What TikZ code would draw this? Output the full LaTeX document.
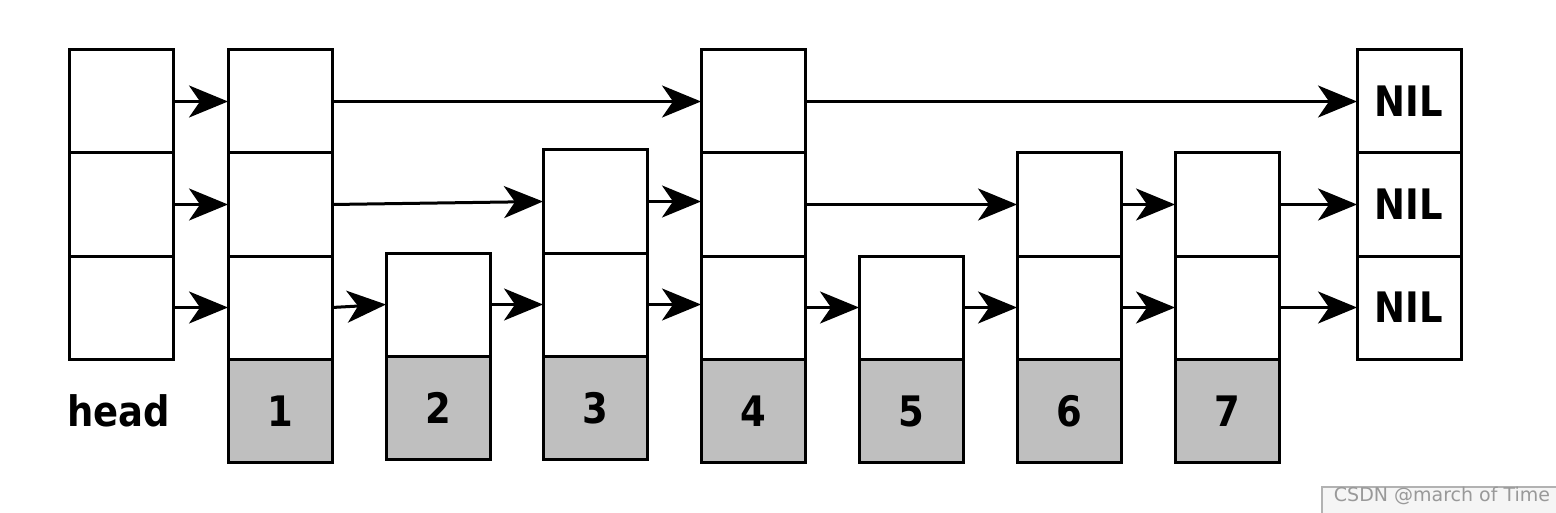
\documentclass[tikz,border=0pt]{standalone}
\usepackage{fontspec}
\setmainfont{DejaVu Sans}
\newfontfamily\lblfont[FakeStretch=0.88]{DejaVu Sans}
\usetikzlibrary{arrows.meta}
\begin{document}
\begin{tikzpicture}[x=0.5pt,y=-0.5pt,
  cell/.style={draw=black,line width=1.5pt,fill=white,minimum width=52pt,minimum height=51.5pt,inner sep=0pt,outer sep=0pt,
    font=\lblfont\fontsize{21}{24}\selectfont\bfseries},
  keycell/.style={cell,fill=gray!50},
  link/.style={line width=1.5pt,-{Stealth[length=19.5pt,width=16pt,inset=5.5pt]}},
  lbl/.style={font=\lblfont\fontsize{21}{24}\selectfont\bfseries,inner sep=0pt}
]
\useasboundingbox (0,0) rectangle (1556,513);
\fill[white] (0,0) rectangle (1556,513);
% head column
\node[cell] (h3) at (121,101.5) {};
\node[cell] (h2) at (121,204.5) {};
\node[cell] (h1) at (121,307.5) {};
\node[lbl] (head) at (119,411) {head};
% column 1
\node[cell] (a3) at (280,101.5) {};
\node[cell] (a2) at (280,204.5) {};
\node[cell] (a1) at (280,307.5) {};
\node[keycell] (a0) at (280,411) {1};
% column 2
\node[cell] (b1) at (438,304.5) {};
\node[keycell] (b0) at (438,408) {2};
% column 3
\node[cell] (c2) at (595,201.5) {};
\node[cell] (c1) at (595,304.5) {};
\node[keycell] (c0) at (595,408) {3};
% column 4
\node[cell] (d3) at (753,101.5) {};
\node[cell] (d2) at (753,204.5) {};
\node[cell] (d1) at (753,307.5) {};
\node[keycell] (d0) at (753,411) {4};
% column 5
\node[cell] (e1) at (911,307.5) {};
\node[keycell] (e0) at (911,411) {5};
% column 6
\node[cell] (f2) at (1069,204.5) {};
\node[cell] (f1) at (1069,307.5) {};
\node[keycell] (f0) at (1069,411) {6};
% column 7
\node[cell] (g2) at (1227,204.5) {};
\node[cell] (g1) at (1227,307.5) {};
\node[keycell] (g0) at (1227,411) {7};
% NIL
\node[cell] (n3) at (1409,101.5) {NIL};
\node[cell] (n2) at (1409,204.5) {NIL};
\node[cell] (n1) at (1409,307.5) {NIL};
% level 3
\draw[link] (h3.east) -- (a3.west);
\draw[link] (a3.east) -- (d3.west);
\draw[link] (d3.east) -- (n3.west);
% level 2
\draw[link] (h2.east) -- (a2.west);
\draw[link] (a2.east) -- (c2.west);
\draw[link] (c2.east) -- (d2.west |- c2.east);
\draw[link] (d2.east) -- (f2.west);
\draw[link] (f2.east) -- (g2.west);
\draw[link] (g2.east) -- (n2.west);
% level 1
\draw[link] (h1.east) -- (a1.west);
\draw[link] (a1.east) -- (b1.west);
\draw[link] (b1.east) -- (c1.west);
\draw[link] (c1.east) -- (d1.west |- c1.east);
\draw[link] (d1.east) -- (e1.west);
\draw[link] (e1.east) -- (f1.west);
\draw[link] (f1.east) -- (g1.west);
\draw[link] (g1.east) -- (n1.west);
% watermark
\draw[draw=gray!60,fill=gray!8,line width=0.6pt] (1322,487) rectangle (1560,520);
\node[text=gray!80,font=\fontsize{9.5}{10}\selectfont,inner sep=0pt] (wm) at (1442,496) {CSDN @march of Time};
\end{tikzpicture}
\end{document}
